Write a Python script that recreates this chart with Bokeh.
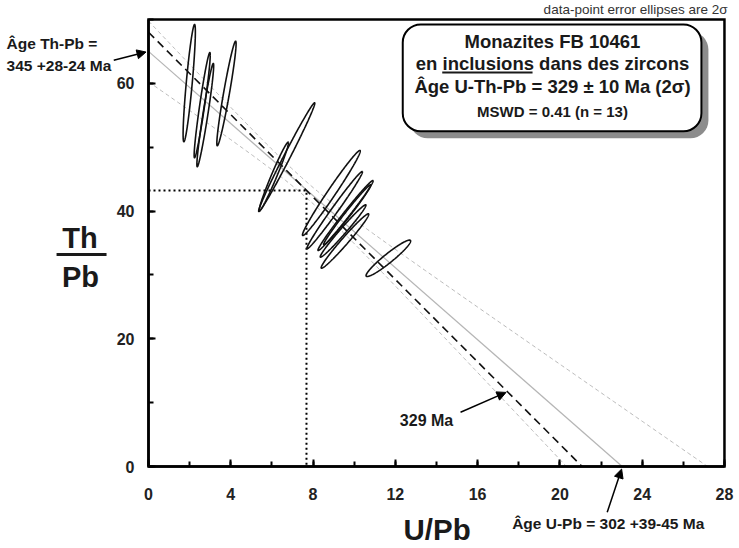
import numpy as np
from bokeh.plotting import figure
from bokeh.models import (Label, Arrow, NormalHead, BoxAnnotation,
                          SingleIntervalTicker, Range1d)
from bokeh.embed import file_html
from bokeh.resources import INLINE

# ---- data: monazite analyses (U/Pb, Th/Pb) with 2-sigma errors and error correlation
u_pb = [1.98, 2.61, 2.76, 3.79, 6.72, 6.09, 8.89, 9.05, 9.58, 9.66, 9.46, 9.55, 11.66]
u_pb_err = [0.298, 0.391, 0.408, 0.468, 1.365, 0.713, 1.405, 1.351, 1.341, 1.148, 1.111, 1.156, 1.083]
th_pb = [60.03, 56.58, 55.02, 58.41, 48.44, 45.40, 42.83, 40.14, 39.30, 39.41, 36.88, 35.31, 32.60]
th_pb_err = [9.18, 8.24, 8.09, 8.19, 8.51, 5.39, 6.66, 6.05, 5.48, 4.70, 4.10, 4.26, 2.85]
rho = [0.872, 0.951, 0.955, 0.951, 0.992, 0.979, 0.986, 0.990, 0.990, 0.989, 0.985, 0.982, 0.949]

# regression line (Th/Pb intercept -> 345 Ma, U/Pb intercept -> 302 Ma)
reg_th_intercept = 65.0
reg_u_intercept = 23.03
# error envelope parameters (hyperbolic)
env_c = 0.597
env_d = 2.1
# centroid of the data and 329 Ma isochron
centroid_u = 7.68
centroid_th = 43.2
iso_th_intercept = 68.0
iso_u_intercept = 21.08

# axis box
x_min, x_max = 0, 28
y_min, y_max = 0, 70
x_ticks_interval = 4
y_ticks_interval = 20

FONT = "Liberation Sans"
PX_PER_Y = 548 / (72.97 + 12.84)

# the frame spans the whole canvas; axes are drawn at fixed locations
p = figure(width=739, height=548, x_range=Range1d(-7.195, 28.731), y_range=Range1d(-12.84, 72.97),
           output_backend="svg", toolbar_location=None,
           min_border_left=0, min_border_right=0, min_border_top=0, min_border_bottom=0)
p.background_fill_color = "white"
p.border_fill_color = "white"
p.grid.visible = False
p.outline_line_color = None

p.xaxis.ticker = SingleIntervalTicker(interval=x_ticks_interval, num_minor_ticks=2)
p.yaxis.ticker = SingleIntervalTicker(interval=y_ticks_interval, num_minor_ticks=2)
p.xaxis.fixed_location = y_min
p.yaxis.fixed_location = x_min
p.xaxis.bounds = (x_min, x_max)
p.yaxis.bounds = (y_min, y_max)
for ax in (p.xaxis[0], p.yaxis[0]):
    ax.axis_line_width = 2.5
    ax.axis_line_color = "black"
    ax.major_tick_in = 7
    ax.major_tick_out = 0
    ax.minor_tick_in = 5
    ax.minor_tick_out = 0
    ax.major_tick_line_width = 2
    ax.minor_tick_line_width = 2
    ax.major_tick_line_color = "black"
    ax.minor_tick_line_color = "black"
    ax.major_label_text_font = FONT
    ax.major_label_text_font_style = "bold"
    ax.major_label_text_font_size = "16px"
    ax.major_label_text_color = "#222222"
p.xaxis.major_label_standoff = 21
p.yaxis.major_label_standoff = 14

# ---- regression envelope, regression line, isochron
xe = np.linspace(x_min, x_max, 400)
slope = -reg_th_intercept / reg_u_intercept
half = env_c * np.sqrt(env_d ** 2 + (xe - centroid_u) ** 2)
for sign in (1, -1):
    ye = reg_th_intercept + slope * xe + sign * half
    keep = (ye >= y_min) & (ye <= y_max)
    p.line(xe[keep], ye[keep], line_color="#b8b8b8", line_width=1, line_dash="4 3")
p.line([0, reg_u_intercept], [reg_th_intercept, 0], line_color="#b5b5b5", line_width=1.2)
p.line([0, iso_u_intercept], [iso_th_intercept, 0], line_color="#111111", line_width=1.6, line_dash="8 5")
p.line([0, centroid_u, centroid_u], [centroid_th, centroid_th, 0], line_color="black",
       line_width=2, line_dash="2 3")

# ---- error ellipses
t = np.linspace(0, 2 * np.pi, 240)
xs, ys = [], []
for cx, sx, cy, sy, r in zip(u_pb, u_pb_err, th_pb, th_pb_err, rho):
    xs.append(cx + sx * np.cos(t))
    ys.append(cy + sy * (r * np.cos(t) + np.sqrt(1 - r * r) * np.sin(t)))
p.multi_line(xs, ys, line_color="#111111", line_width=1.6)

# ---- axis box (top and right sides)
p.quad(left=[x_min], right=[x_max], bottom=[y_min], top=[y_max], fill_color=None,
       line_color="black", line_width=2.5, line_join="miter")

# ---- info box
p.add_layout(BoxAnnotation(left=12.70, right=27.22, top=68.1, bottom=51.4,
                           fill_color="#8c8c8c", fill_alpha=1, line_alpha=0, border_radius=18))
p.add_layout(BoxAnnotation(left=12.36, right=26.88, top=69.21, bottom=52.50,
                           fill_color="white", fill_alpha=1, line_color="black",
                           line_width=2, line_alpha=1, border_radius=18))


def lab(x, y, text, size, align="left", style="bold", color="#1a1a1a"):
    lift = 0.32 * size / PX_PER_Y  # baseline correction
    p.add_layout(Label(x=x, y=y + lift, text=text, text_font=FONT, text_font_style=style,
                       text_font_size=f"{size}px", text_align=align, text_baseline="alphabetic",
                       text_color=color))


lab(19.64, 65.6, "Monazites FB 10461", 18.5, "center")
lab(19.64, 62.2, "en inclusions dans des zircons", 18.5, "center")
lab(19.64, 58.64, "Âge U-Th-Pb = 329 ± 10 Ma (2σ)", 18.5, "center")
lab(19.64, 54.88, "MSWD = 0.41 (n = 13)", 15, "center")
p.add_layout(Arrow(x_start=14.28, y_start=61.7, x_end=18.67, y_end=61.7, end=None,
                   line_width=2, line_color="#1a1a1a"))

lab(28.15, 70.94, "data-point error ellipses are 2σ", 13.5, "right", "normal", "#333333")

# ---- axis titles
lab(14.03, -11.3, "U/Pb", 29.5, "center")
lab(-3.33, 34.34, "Th", 29, "center")
lab(-3.31, 28.19, "Pb", 29, "center")
p.add_layout(Arrow(x_start=-4.47, y_start=33.2, x_end=-2.04, y_end=33.2, end=None,
                   line_width=3, line_color="#1a1a1a"))

# ---- annotations with arrows
lab(-6.90, 65.46, "Âge Th-Pb =", 15.5)
lab(-6.90, 62.01, "345 +28-24 Ma", 15.5)
p.add_layout(Arrow(x_start=-1.69, y_start=63.6, x_end=-0.12, y_end=64.9, line_width=1.5,
                   end=NormalHead(size=9, fill_color="black", line_color="black")))

lab(12.22, 6.42, "329 Ma", 16)
p.add_layout(Arrow(x_start=15.17, y_start=8.5, x_end=17.38, y_end=11.6, line_width=1.5,
                   end=NormalHead(size=9, fill_color="black", line_color="black")))

lab(17.68, -9.76, "Âge U-Pb = 302 +39-45 Ma", 15.5)
p.add_layout(Arrow(x_start=22.30, y_start=-7.16, x_end=23.0, y_end=-0.4, line_width=1.5,
                   end=NormalHead(size=9, fill_color="black", line_color="black")))

open("out.html", "w").write(file_html(p, INLINE))
